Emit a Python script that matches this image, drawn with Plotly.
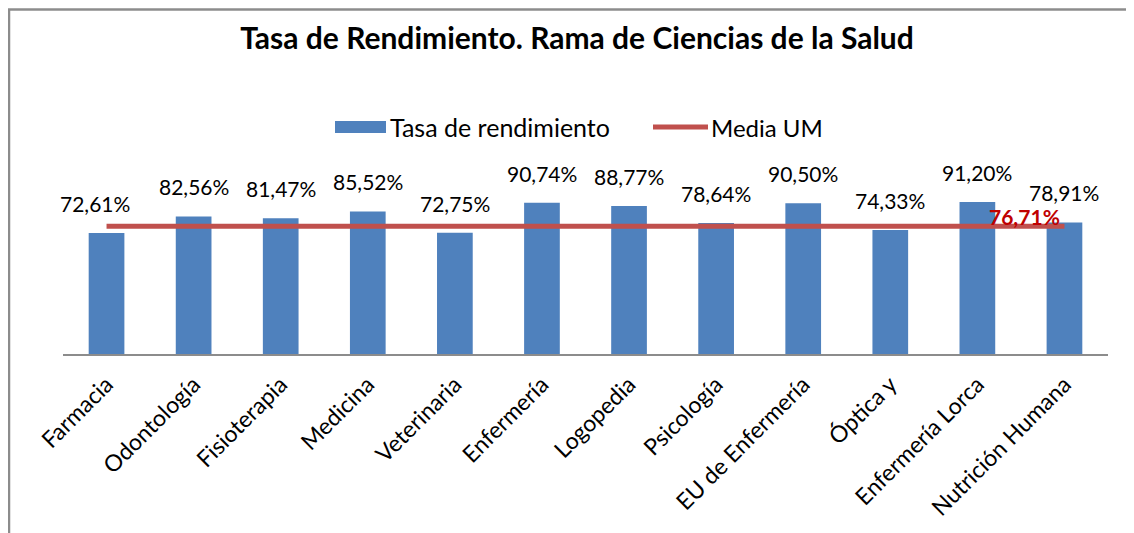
import plotly.graph_objects as go

categorias = ["Farmacia", "Odontología", "Fisioterapia", "Medicina", "Veterinaria",
              "Enfermería", "Logopedia", "Psicología", "EU de Enfermería", "Óptica y",
              "Enfermería Lorca", "Nutrición Humana"]
tasa = [72.61, 82.56, 81.47, 85.52, 72.75, 90.74, 88.77, 78.64, 90.50, 74.33, 91.20, 78.91]
media_um = 76.71
media = [media_um] * len(categorias)

# page has an 8px body margin: work in page coordinates, convert to figure coords
OFF = 8
W, H = 1134 - OFF, 533 - OFF
L, R, T, B = 63 - OFF, 26, 154 - OFF, 179
PW, PH = W - L - R, H - T - B

def px(x):  # page x -> paper x
    return (x - OFF - L) / PW

def py(y):  # page y -> paper y
    return (H - B - (y - OFF)) / PH

FONT = "Lato, 'Open Sans', sans-serif"

def fmt(v):
    return f"{v:.2f}".replace(".", ",") + "%"

fig = go.Figure()
fig.add_trace(go.Bar(x=categorias, y=tasa, name="Tasa de rendimiento",
                     marker=dict(color="#4F81BD", line=dict(width=0)),
                     showlegend=False))
fig.add_trace(go.Scatter(x=categorias, y=media, mode="lines", name="Media UM",
                         line=dict(color="#C0504D", width=5), showlegend=False))

annotations = []
for i, (c, v) in enumerate(zip(categorias, tasa)):
    annotations.append(dict(x=c, y=v, text=fmt(v), showarrow=False, xanchor="center",
                            yanchor="bottom", yshift=15, xshift=-12 if i == 0 else 0,
                            font=dict(family=FONT, size=21, color="#000000")))
annotations.append(dict(x=categorias[-1], y=media[-1], text="<b>" + fmt(media_um) + "</b>",
                        showarrow=False, xanchor="right", yanchor="middle",
                        xshift=-2, yshift=10,
                        font=dict(family=FONT, size=21, color="#C00000")))
# legend texts
annotations.append(dict(xref="paper", yref="paper", x=px(388), y=py(127),
                        text="Tasa de rendimiento", showarrow=False,
                        xanchor="left", yanchor="middle",
                        font=dict(family=FONT, size=25, color="#000000")))
annotations.append(dict(xref="paper", yref="paper", x=px(709), y=py(127),
                        text="Media UM", showarrow=False,
                        xanchor="left", yanchor="middle",
                        font=dict(family=FONT, size=24, color="#000000")))

shapes = [
    # legend symbols
    dict(type="rect", xref="paper", yref="paper", x0=px(335), x1=px(386),
         y0=py(133), y1=py(121), fillcolor="#4F81BD", line=dict(width=0)),
    dict(type="line", xref="paper", yref="paper", x0=px(653), x1=px(708),
         y0=py(127), y1=py(127), line=dict(color="#C0504D", width=5)),
    # outer frame (top and left)
    dict(type="line", xref="paper", yref="paper", x0=px(8), x1=px(1134),
         y0=py(9.5), y1=py(9.5), line=dict(color="#8C8C8C", width=2.5)),
    dict(type="line", xref="paper", yref="paper", x0=px(9), x1=px(9),
         y0=py(9), y1=py(533), line=dict(color="#8C8C8C", width=2.5)),
]

fig.update_layout(
    width=W, height=H,
    margin=dict(l=L, r=R, t=T, b=B, autoexpand=False),
    paper_bgcolor="white", plot_bgcolor="white",
    bargap=0.59,
    title=dict(text="<b>Tasa de Rendimiento. Rama de Ciencias de la Salud</b>",
               x=(577 - OFF) / W, xanchor="center", y=1 - (38 - OFF) / H, yanchor="middle",
               font=dict(family=FONT, size=30, color="#000000")),
    annotations=annotations,
    shapes=shapes,
    showlegend=False,
)
fig.update_xaxes(showline=True, linecolor="#8C8C8C", linewidth=2, ticks="",
                 range=[-0.5, len(categorias) - 0.5],
                 tickangle=-45, showgrid=False, ticklabelstandoff=6,
                 tickfont=dict(family=FONT, size=23, color="#000000"))
fig.update_yaxes(range=[0, 120], visible=False, showgrid=False)

fig.write_html("out.html")
